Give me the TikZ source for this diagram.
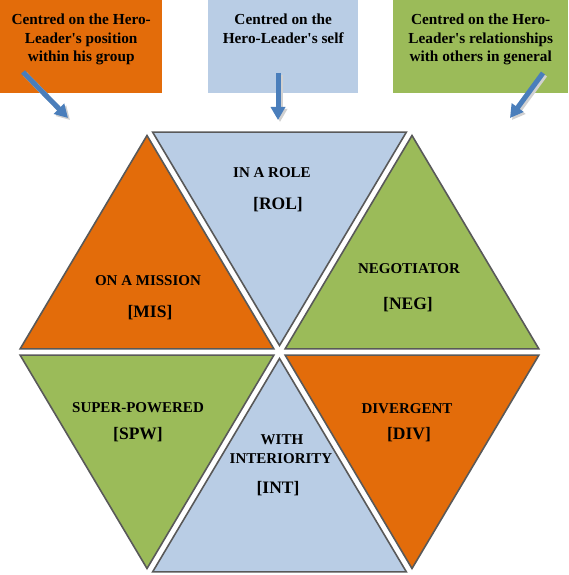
\documentclass[tikz,border=0pt]{standalone}
\usepackage{fontspec}
\setmainfont{Liberation Serif}
\usetikzlibrary{arrows.meta,positioning,calc}

\definecolor{hexorange}{RGB}{227,108,10}
\definecolor{hexblue}{RGB}{185,205,229}
\definecolor{hexgreen}{RGB}{155,187,89}
\definecolor{hexedge}{RGB}{89,89,89}
\definecolor{arrowblue}{RGB}{74,126,187}

\begin{document}
\begin{tikzpicture}[
    x=1pt, y=-1pt,
    focus/.style={anchor=north west, inner sep=0pt, minimum height=93pt},
    focustext/.style={anchor=north, inner sep=0pt, align=center,
        font=\fontsize{15.3}{18.5}\selectfont\bfseries},
    tri/.style={draw=hexedge, line width=1.6pt, line join=miter},
    trilabel/.style={anchor=base, inner sep=0pt, font=\fontsize{15}{18}\selectfont\bfseries},
    tricode/.style={anchor=base, inner sep=0pt, font=\fontsize{17.5}{20}\selectfont\bfseries},
    pointer/.style={line width=5pt, draw=arrowblue, -{Triangle[length=13pt,width=14pt]}},
    pointershade/.style={line width=5pt, draw=black!18, -{Triangle[length=13pt,width=14pt]}}
]
\useasboundingbox (0,0) rectangle (568,575);

% the three focus boxes
\node[focus, fill=hexorange, minimum width=162pt] (misbox) at (0,0) {};
\node[focus, fill=hexblue, minimum width=150pt] (rolbox) at (208,0) {};
\node[focus, fill=hexgreen, minimum width=175pt] (negbox) at (393,0) {};

\node[focustext] (mistext) at ($(misbox.north)+(0,14)$)
    {Centred on the Hero-\\Leader\textquotesingle s position\\within his group};
\node[focustext] (roltext) at ($(rolbox.north)+(0,14)$)
    {Centred on the\\Hero-Leader\textquotesingle s self};
\node[focustext] (negtext) at ($(negbox.north)+(0,14)$)
    {Centred on the Hero-\\Leader\textquotesingle s relationships\\with others in general};

\coordinate (misfrom) at (23,72);  \coordinate (misto) at (68,118);
\coordinate (rolfrom) at (278,73); \coordinate (rolto) at (278,120);
\coordinate (negfrom) at (543,73); \coordinate (negto) at (510,118);

\draw[pointershade] ($(misfrom)+(2,2)$) -- ($(misto)+(2,2)$);
\draw[pointershade] ($(rolfrom)+(2,2)$) -- ($(rolto)+(2,2)$);
\draw[pointershade] ($(negfrom)+(2,2)$) -- ($(negto)+(2,2)$);
\draw[pointer] (misfrom) -- (misto);
\draw[pointer] (rolfrom) -- (rolto);
\draw[pointer] (negfrom) -- (negto);

% hexagon corners and triangle centres
\coordinate (O) at (279.5,352);
\coordinate (L) at (14.5,352);   \coordinate (R) at (544.5,352);
\coordinate (TL) at (147,129);   \coordinate (TR) at (412,129);
\coordinate (BL) at (147,575);   \coordinate (BR) at (412,575);
\coordinate (gmis) at (147,277.7);   \coordinate (grol) at (279.5,203.3);
\coordinate (gneg) at (412,277.7);   \coordinate (gspw) at (147,426.3);
\coordinate (gint) at (279.5,500.7); \coordinate (gdiv) at (412,426.3);

\draw[tri, fill=hexorange] ($(L)!6.5pt!(gmis)$) -- ($(TL)!6.5pt!(gmis)$) -- ($(O)!6.5pt!(gmis)$) -- cycle;
\draw[tri, fill=hexblue] ($(TL)!6.5pt!(grol)$) -- ($(TR)!6.5pt!(grol)$) -- ($(O)!6.5pt!(grol)$) -- cycle;
\draw[tri, fill=hexgreen] ($(TR)!6.5pt!(gneg)$) -- ($(R)!6.5pt!(gneg)$) -- ($(O)!6.5pt!(gneg)$) -- cycle;
\draw[tri, fill=hexgreen] ($(L)!6.5pt!(gspw)$) -- ($(O)!6.5pt!(gspw)$) -- ($(BL)!6.5pt!(gspw)$) -- cycle;
\draw[tri, fill=hexblue] ($(O)!6.5pt!(gint)$) -- ($(BR)!6.5pt!(gint)$) -- ($(BL)!6.5pt!(gint)$) -- cycle;
\draw[tri, fill=hexorange] ($(O)!6.5pt!(gdiv)$) -- ($(R)!6.5pt!(gdiv)$) -- ($(BR)!6.5pt!(gdiv)$) -- cycle;

\node[trilabel] (rolname) at (272,177) {IN A ROLE};
\node[tricode] (rolcode) at (278,209) {[ROL]};
\node[trilabel] (misname) at (148,285) {ON A MISSION};
\node[tricode] (miscode) at (150,317) {[MIS]};
\node[trilabel] (negname) at (409,273) {NEGOTIATOR};
\node[tricode] (negcode) at (408,309) {[NEG]};
\node[trilabel] (spwname) at (138,412) {SUPER-POWERED};
\node[tricode] (spwcode) at (138,439) {[SPW]};
\node[trilabel] (divname) at (407,413) {DIVERGENT};
\node[tricode] (divcode) at (409,439) {[DIV]};
\node[trilabel] (intname) at (282,444) {WITH};
\node[trilabel] (intname2) at (281,463) {INTERIORITY};
\node[tricode] (intcode) at (278,493) {[INT]};

\end{tikzpicture}
\end{document}
